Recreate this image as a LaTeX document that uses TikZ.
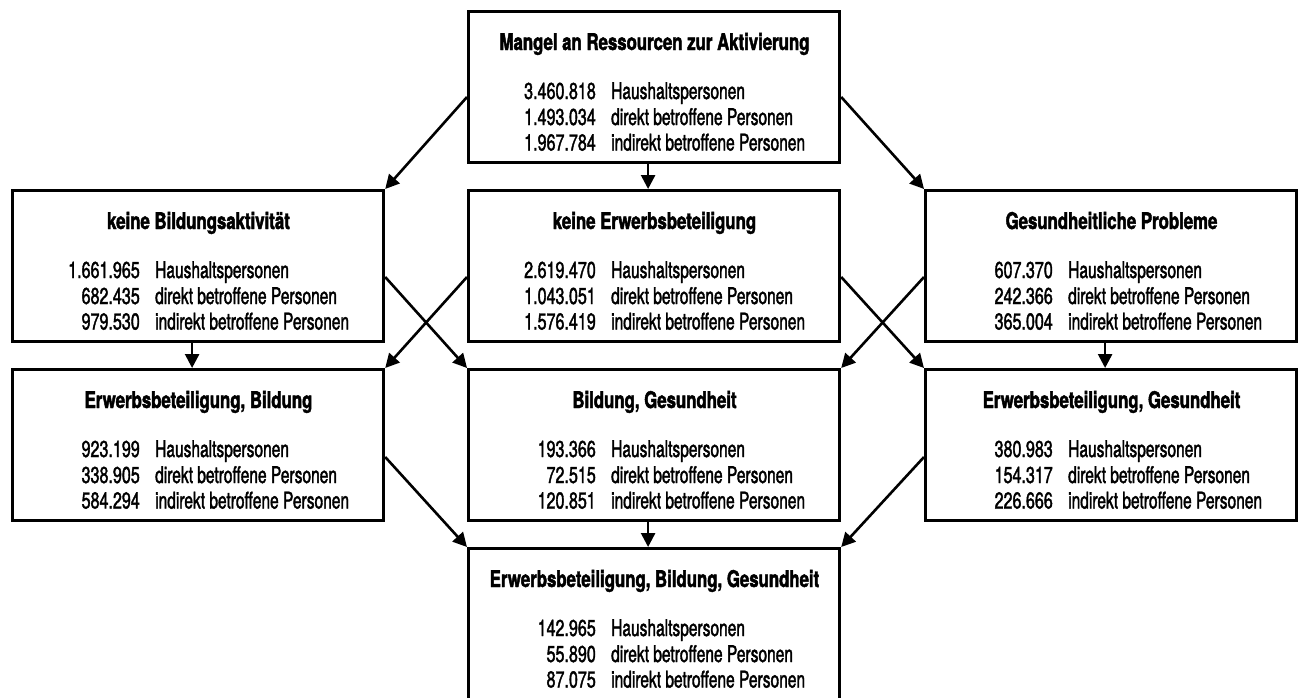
\documentclass[tikz,border=0pt]{standalone}
\usepackage{fontspec}
\setmainfont[FakeStretch=0.675,FakeBold=1.6,BoldFeatures={FakeStretch=0.73,FakeBold=2.0}]{TeX Gyre Heros}
\newfontfamily\numfont[FakeStretch=0.70,FakeBold=1.6]{TeX Gyre Heros}
\usetikzlibrary{arrows.meta}
\tikzset{
  boxst/.style={draw=black, line width=3.2pt, minimum width=371pt, minimum height=151pt, inner sep=0pt, fill=white},
  titlest/.style={anchor=base, inner sep=0pt, font=\fontsize{23}{25}\selectfont\bfseries},
  numst/.style={anchor=base east, inner sep=0pt, font=\fontsize{23}{25}\selectfont\numfont},
  txtst/.style={anchor=base west, inner sep=0pt, font=\fontsize{23}{25}\selectfont},
  arr/.style={line width=2.6pt, -{Triangle[length=14pt,width=14pt]}}
}
\newcommand\statbox[6]{%
  \node[boxst, anchor=north west] (#1) at (#2) {};
  \node[titlest] (#1-title) at ([xshift=187.5pt,yshift=-40pt]#1.north west) {#3};
  \node[numst] (#1-n1) at ([xshift=129pt,yshift=-89pt]#1.north west) {#4};
  \node[numst] (#1-n2) at ([xshift=129pt,yshift=-115pt]#1.north west) {#5};
  \node[numst] (#1-n3) at ([xshift=129pt,yshift=-140.5pt]#1.north west) {#6};
  \node[txtst] (#1-t1) at ([xshift=144pt,yshift=-89pt]#1.north west) {Haushaltspersonen};
  \node[txtst] (#1-t2) at ([xshift=144pt,yshift=-115pt]#1.north west) {direkt betroffene Personen};
  \node[txtst] (#1-t3) at ([xshift=144pt,yshift=-140.5pt]#1.north west) {indirekt betroffene Personen};
}
\begin{document}
\begin{tikzpicture}[x=1pt,y=-1pt]
\fill[white] (0,0) rectangle (1300,697);
\useasboundingbox (0,0) rectangle (1300,697);
\statbox{top}{467,10}{Mangel an Ressourcen zur Aktivierung}{3.460.818}{1.493.034}{1.967.784}
\statbox{L2}{11,189}{keine Bildungsaktivität}{1.661.965}{682.435}{979.530}
\statbox{M2}{467,189}{keine Erwerbsbeteiligung}{2.619.470}{1.043.051}{1.576.419}
\statbox{R2}{924,189}{Gesundheitliche Probleme}{607.370}{242.366}{365.004}
\statbox{L3}{11,368}{Erwerbsbeteiligung, Bildung}{923.199}{338.905}{584.294}
\statbox{M3}{467,368}{Bildung, Gesundheit}{193.366}{72.515}{120.851}
\statbox{R3}{924,368}{Erwerbsbeteiligung, Gesundheit}{380.983}{154.317}{226.666}
\statbox{B}{467,547}{Erwerbsbeteiligung, Bildung, Gesundheit}{142.965}{55.890}{87.075}
% arrows
\draw[arr] ([yshift=-87pt]top.north west) -- (L2.north east);
\draw[arr] ([yshift=-87pt]top.north east) -- (R2.north west);
\draw[arr] ([xshift=-6pt]top.south) -- ([xshift=-6pt]M2.north);
\draw[arr] ([xshift=-6pt]L2.south) -- ([xshift=-6pt]L3.north);
\draw[arr] ([yshift=-88pt]L2.north east) -- (M3.north west);
\draw[arr] ([yshift=-88pt]M2.north west) -- (L3.north east);
\draw[arr] ([yshift=-88pt]M2.north east) -- (R3.north west);
\draw[arr] ([yshift=-88pt]R2.north west) -- (M3.north east);
\draw[arr] ([xshift=-6pt]R2.south) -- ([xshift=-6pt]R3.north);
\draw[arr] ([yshift=-89pt]L3.north east) -- (B.north west);
\draw[arr] ([xshift=-6pt]M3.south) -- ([xshift=-6pt]B.north);
\draw[arr] ([yshift=-89pt]R3.north west) -- (B.north east);
\end{tikzpicture}
\end{document}
